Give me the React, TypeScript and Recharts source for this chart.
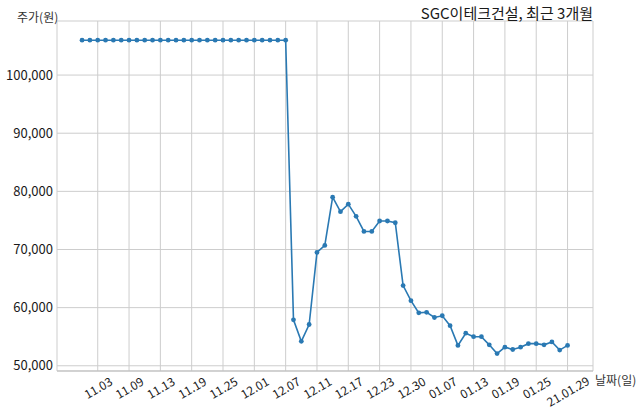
import { LineChart, Line, XAxis, YAxis, CartesianGrid } from 'recharts'

// trading days, 2020.10.30 ~ 2021.01.29
const dates = [
  '10.30', '11.02', '11.03', '11.04', '11.05', '11.06', '11.09', '11.10', '11.11', '11.12',
  '11.13', '11.16', '11.17', '11.18', '11.19', '11.20', '11.23', '11.24', '11.25', '11.26',
  '11.27', '11.30', '12.01', '12.02', '12.03', '12.04', '12.07', '12.08', '12.09', '12.10',
  '12.11', '12.14', '12.15', '12.16', '12.17', '12.18', '12.21', '12.22', '12.23', '12.24',
  '12.28', '12.29', '12.30', '01.04', '01.05', '01.06', '01.07', '01.08', '01.11', '01.12',
  '01.13', '01.14', '01.15', '01.18', '01.19', '01.20', '01.21', '01.22', '01.25', '01.26',
  '01.27', '01.28', '01.29',
]

// closing price (won)
const prices = [
  106000, 106000, 106000, 106000, 106000, 106000, 106000, 106000, 106000, 106000,
  106000, 106000, 106000, 106000, 106000, 106000, 106000, 106000, 106000, 106000,
  106000, 106000, 106000, 106000, 106000, 106000, 106000, 57900, 54200, 57100,
  69500, 70700, 79000, 76500, 77800, 75700, 73100, 73100, 74900, 74900,
  74600, 63800, 61200, 59100, 59200, 58300, 58600, 56900, 53500, 55600,
  55000, 55000, 53600, 52100, 53200, 52800, 53200, 53800, 53800, 53600,
  54100, 52700, 53500,
]

const tickLabels = [
  '11.03', '11.09', '11.13', '11.19', '11.25', '12.01', '12.07', '12.11',
  '12.17', '12.23', '12.30', '01.07', '01.13', '01.19', '01.25', '21.01.29',
]

const yTicks = [50000, 60000, 70000, 80000, 90000, 100000]

const FONT = '"Noto Sans CJK KR", "Noto Sans", sans-serif'
const LINE_COLOR = '#2a79b3'
const GRID_COLOR = '#cdcdcd'

const chartData = dates.map((d, i) => ({ idx: i, date: d, price: prices[i] }))

// x positions of the labelled days
const tickIdx = tickLabels.map(l => dates.indexOf(l.slice(-5)))
const labelAt: Record<number, string> = {}
tickIdx.forEach((t, i) => { labelAt[t] = tickLabels[i] })

const DateTick = ({ x, y, payload }: any) => {
  const label = labelAt[payload.value] ?? ''
  const off = 10 + label.length * 1.2
  return (
    <g transform={`translate(${x},${y + off}) rotate(-30)`}>
      <text textAnchor="middle" dominantBaseline="central" fontSize={12} fill="#1a1a1a" fontFamily={FONT}>
        {label}
      </text>
    </g>
  )
}

export default function App() {
  return (
    <div style={{ position: 'absolute', left: 0, top: 0, width: 640, height: 409, background: '#fff', fontFamily: FONT }}>
      <LineChart
        width={640}
        height={409}
        data={chartData}
        margin={{ top: 21, right: 47, left: 0, bottom: 0 }}
      >
        <CartesianGrid stroke={GRID_COLOR} strokeWidth={1} />
        <XAxis
          dataKey="idx"
          type="number"
          domain={[-3.2, 65.25]}
          ticks={tickIdx}
          interval={0}
          allowDataOverflow
          height={38}
          tickSize={0}
          tickMargin={0}
          tickLine={false}
          axisLine={{ stroke: '#bdbdbd' }}
          tick={<DateTick />}
        />
        <YAxis
          type="number"
          domain={[49100, 109300]}
          ticks={yTicks}
          allowDataOverflow
          width={57}
          tickSize={0}
          tickMargin={4}
          tickLine={false}
          axisLine={false}
          tickFormatter={(v: number) => v.toLocaleString('en-US')}
          tick={{ fontSize: 13, fill: '#1a1a1a', fontFamily: FONT }}
        />
        <Line
          type="linear"
          dataKey="price"
          stroke={LINE_COLOR}
          strokeWidth={1.6}
          dot={{ r: 2.4, fill: LINE_COLOR, stroke: LINE_COLOR, strokeWidth: 0 }}
          activeDot={false}
          isAnimationActive={false}
        />
      </LineChart>

      <div style={{ position: 'absolute', right: 47, top: 5, fontSize: 15, lineHeight: '15px', color: '#1a1a1a', whiteSpace: 'nowrap' }}>
        SGC이테크건설, 최근 3개월
      </div>
      <div style={{ position: 'absolute', left: 17, top: 11, fontSize: 12, lineHeight: '12px', color: '#333', whiteSpace: 'nowrap' }}>
        주가(원)
      </div>
      <div style={{ position: 'absolute', left: 595, top: 374, fontSize: 12, lineHeight: '12px', color: '#333', whiteSpace: 'nowrap' }}>
        날짜(일)
      </div>
    </div>
  )
}
